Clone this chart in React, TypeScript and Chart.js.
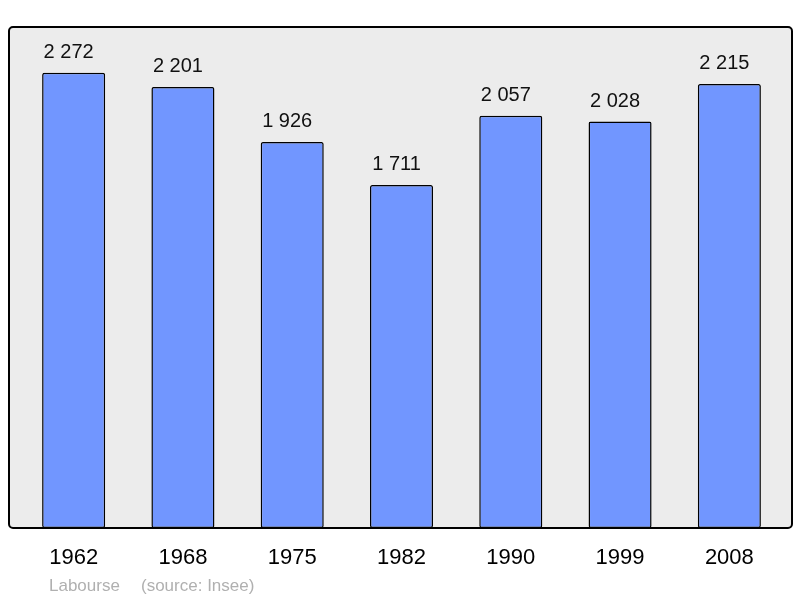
import React, { useEffect, useRef } from "react";
import { Chart, registerables } from "chart.js";

Chart.register(...registerables);

const years = ["1962", "1968", "1975", "1982", "1990", "1999", "2008"];
const population = [2272, 2201, 1926, 1711, 2057, 2028, 2215];
const commune = "Labourse";
const source = "(source: Insee)";

const FONT = "'Liberation Sans', Arial, sans-serif";

const fmt = (v: number) => {
  const s = String(v);
  return s.replace(/\B(?=(\d{3})+(?!\d))/g, " ");
};

const framePlugin = {
  id: "frame",
  beforeDatasetsDraw(chart: any) {
    const ctx = chart.ctx;
    ctx.save();
    ctx.fillStyle = "#ececec";
    ctx.beginPath();
    (ctx as any).roundRect(9, 27, 783, 501, 4);
    ctx.fill();
    ctx.restore();
  },
  afterDatasetsDraw(chart: any) {
    const ctx = chart.ctx;
    ctx.save();
    ctx.strokeStyle = "#000";
    ctx.lineWidth = 2;
    ctx.beginPath();
    (ctx as any).roundRect(9, 27, 783, 501, 4);
    ctx.stroke();
    // value labels
    const meta = chart.getDatasetMeta(0);
    ctx.fillStyle = "#111";
    ctx.font = `20px ${FONT}`;
    ctx.textAlign = "center";
    ctx.textBaseline = "alphabetic";
    meta.data.forEach((bar: any, i: number) => {
      ctx.fillText(fmt(population[i]), bar.x - 5, bar.y - 15);
    });
    // footer
    ctx.fillStyle = "#b0b0b0";
    ctx.font = `17px ${FONT}`;
    ctx.textAlign = "left";
    ctx.fillText(commune, 49, 591);
    ctx.fillText(source, 141, 591);
    ctx.restore();
  },
};

export default function App() {
  const ref = useRef<HTMLCanvasElement>(null);
  useEffect(() => {
    if (!ref.current) return;
    const chart = new Chart(ref.current, {
      type: "bar",
      data: {
        labels: years,
        datasets: [
          {
            data: population,
            backgroundColor: "#7196ff",
            borderColor: "#000",
            borderWidth: 1.5,
            borderRadius: 2,
            borderSkipped: false,
            categoryPercentage: 1,
            barPercentage: 0.577,
          },
        ],
      },
      options: {
        animation: false,
        responsive: false,
        maintainAspectRatio: false,
        layout: { padding: { top: 27, left: 19, right: 16, bottom: 0 } },
        plugins: { legend: { display: false }, tooltip: { enabled: false }, title: { display: false } },
        scales: {
          x: {
            grid: { display: false, drawTicks: false, tickLength: 0 },
            border: { display: false },
            ticks: {
              color: "#000",
              font: { family: FONT, size: 22 },
              padding: 17,
              maxRotation: 0,
            },
            afterFit(scale: any) {
              scale.height = 70;
            },
          },
          y: {
            display: false,
            min: 0,
            max: 2500,
          },
        },
      },
      plugins: [framePlugin],
    });
    return () => chart.destroy();
  }, []);
  return (
    <div style={{ position: "fixed", left: 0, top: 0, width: 800, height: 598, background: "#fff" }}>
      <canvas ref={ref} width={800} height={598} style={{ display: "block" }} />
    </div>
  );
}
